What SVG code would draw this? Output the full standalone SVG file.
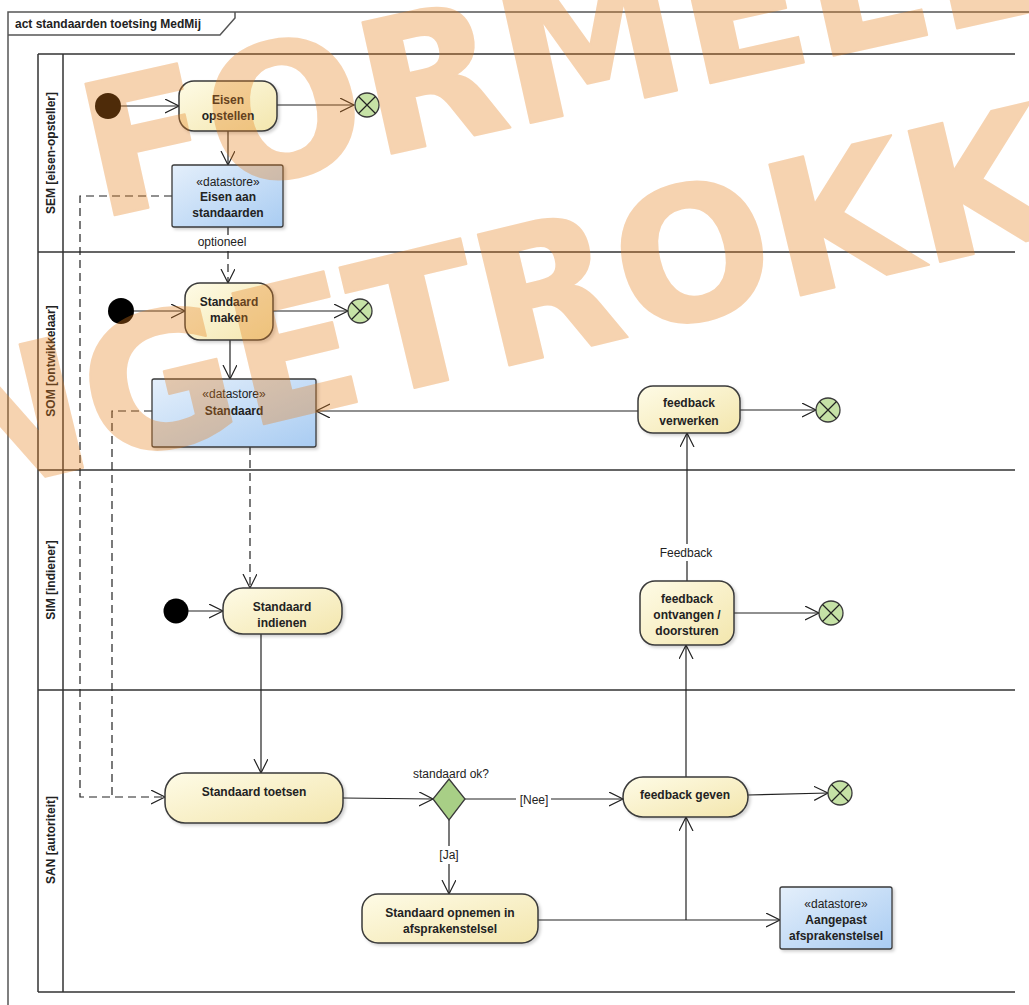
<svg xmlns="http://www.w3.org/2000/svg" width="1029" height="1005" viewBox="0 0 1029 1005">
<defs>
<style>
.frame{fill:none;stroke:#555;stroke-width:1.5}
.lane{fill:none;stroke:#333;stroke-width:1.5}
.act{fill:url(#gAct);stroke:#3a3a3a;stroke-width:1.5;filter:url(#sh)}
.ds{fill:url(#gDs);stroke:#3a3a3a;stroke-width:1.3;filter:url(#sh)}
.fin{fill:#c6e2a6;stroke:#3a3a3a;stroke-width:1.3}
.init{fill:#000}
.dec{fill:#a8cf86;stroke:#3a3a3a;stroke-width:1.3}
.cn{fill:none;stroke:#222;stroke-width:1.2}
.flow{fill:none;stroke:#222;stroke-width:1.2;marker-end:url(#arr)}
.dash{fill:none;stroke:#222;stroke-width:1.2;stroke-dasharray:8,5}
.t{font-family:"Liberation Sans",Arial,sans-serif;font-size:12px;font-weight:bold;fill:#222;text-anchor:middle}
.s{font-family:"Liberation Sans",Arial,sans-serif;font-size:12px;fill:#222;text-anchor:middle}
.ll{font-family:"Liberation Sans",Arial,sans-serif;font-size:12px;font-weight:bold;fill:#222;text-anchor:middle}
.wm{font-family:"DejaVu Sans",Verdana,sans-serif;font-size:185px;font-weight:bold;fill:#e57f1c;stroke:#e57f1c;stroke-width:2;stroke-linejoin:round}
</style>
<linearGradient id="gAct" x1="0" y1="0" x2="1" y2="1">
<stop offset="0" stop-color="#fefbe6"/><stop offset="1" stop-color="#f3e6ad"/>
</linearGradient>
<linearGradient id="gDs" x1="0" y1="0" x2="1" y2="1">
<stop offset="0" stop-color="#e4effb"/><stop offset="1" stop-color="#a9ccf2"/>
</linearGradient>
<filter id="sh" x="-10%" y="-10%" width="130%" height="140%">
<feDropShadow dx="2" dy="2" stdDeviation="1.5" flood-color="#000" flood-opacity="0.18"/>
</filter>
<marker id="arr" markerWidth="16" markerHeight="16" refX="14" refY="7" orient="auto" markerUnits="userSpaceOnUse">
<path d="M0,0 L14,7 L0,14" fill="none" stroke="#222" stroke-width="1.2"/>
</marker>
</defs>
<rect width="1029" height="1005" fill="#fff"/>

<g id="frame">
<path class="frame" d="M8,1005 L8,12 L1029,12"/>
<path class="frame" d="M8,35 L220,35 L235,18 L235,12"/>
<text x="15" y="28" font-family="Liberation Sans,Arial,sans-serif" font-size="12" font-weight="bold" fill="#222">act standaarden toetsing MedMij</text>
</g>

<g id="lanes">
<path class="lane" d="M38,54 L1015,54 M38,252 L1015,252 M38,470 L1015,470 M38,690 L1015,690 M38,992 L1015,992 M38,54 L38,992 M63,54 L63,992"/>
<text class="ll" transform="translate(55,153) rotate(-90)">SEM [eisen-opsteller]</text>
<text class="ll" transform="translate(55,361) rotate(-90)">SOM [ontwikkelaar]</text>
<text class="ll" transform="translate(55,580) rotate(-90)">SIM [indiener]</text>
<text class="ll" transform="translate(55,840) rotate(-90)">SAN [autoriteit]</text>
</g>

<g id="connectors">
<line class="flow" x1="121" y1="106" x2="179" y2="106"/>
<line class="flow" x1="277" y1="105" x2="354" y2="105"/>
<line class="flow" x1="228" y1="131" x2="228" y2="165"/>
<path class="dash" d="M228,227 L228,236 M228,251 L228,283" marker-end="url(#arr)"/>
<rect x="194" y="235" width="58" height="15" fill="#fff"/>
<text class="s" x="222" y="246">optioneel</text>
<path class="dash" d="M172,196 L80,196 L80,797 L165,797" marker-end="url(#arr)"/>
<path class="dash" d="M152,411 L112,411 L112,797"/>
<line class="flow" x1="134" y1="311" x2="185" y2="311"/>
<line class="flow" x1="273" y1="311" x2="348" y2="311"/>
<line class="flow" x1="230" y1="340" x2="230" y2="379"/>
<path class="dash" d="M250,447 L250,588" marker-end="url(#arr)"/>
<line class="flow" x1="638" y1="411" x2="316" y2="411"/>
<line class="flow" x1="740" y1="410" x2="816" y2="410"/>
<line class="flow" x1="188" y1="611" x2="223" y2="611"/>
<line class="flow" x1="261" y1="634" x2="261" y2="773"/>
<line class="flow" x1="343" y1="798" x2="433" y2="799"/>
<path class="cn" d="M465,799 L516,799 M551,799 L623,799" marker-end="url(#arr)"/>
<text class="s" x="534" y="804">[Nee]</text>
<line class="flow" x1="748" y1="795" x2="828" y2="793"/>
<path class="cn" d="M449,820 L449,846 M449,864 L449,894" marker-end="url(#arr)"/>
<text class="s" x="449" y="859">[Ja]</text>
<line class="flow" x1="538" y1="920" x2="780" y2="920"/>
<line class="flow" x1="686" y1="920" x2="686" y2="817"/>
<line class="flow" x1="686" y1="777" x2="686" y2="645"/>
<line class="flow" x1="734" y1="613" x2="819" y2="613"/>
<path class="cn" d="M687,581 L687,561 M687,544 L687,433" marker-end="url(#arr)"/>
<text class="s" x="686" y="557">Feedback</text>
</g>

<g id="n_init1"><circle class="init" cx="108" cy="106" r="13"/></g>
<g id="n_eisen_opstellen">
<rect class="act" x="179" y="81" width="98" height="50" rx="15"/>
<text class="t" x="228" y="104">Eisen</text><text class="t" x="228" y="120">opstellen</text>
</g>
<g id="n_final1"><circle class="fin" cx="367" cy="105" r="12"/><path class="cn" d="M358.5,96.5 L375.5,113.5 M375.5,96.5 L358.5,113.5"/></g>
<g id="n_ds_eisen">
<rect class="ds" x="172" y="165" width="111" height="62" rx="2"/>
<text class="s" x="228" y="186">«datastore»</text>
<text class="t" x="228" y="201">Eisen aan</text><text class="t" x="228" y="217">standaarden</text>
</g>

<g id="n_init2"><circle class="init" cx="121" cy="311" r="13"/></g>
<g id="n_standaard_maken">
<rect class="act" x="185" y="283" width="88" height="57" rx="15"/>
<text class="t" x="229" y="306">Standaard</text><text class="t" x="229" y="322">maken</text>
</g>
<g id="n_final2"><circle class="fin" cx="360" cy="311" r="12"/><path class="cn" d="M351.5,302.5 L368.5,319.5 M368.5,302.5 L351.5,319.5"/></g>
<g id="n_ds_standaard">
<rect class="ds" x="152" y="379" width="164" height="68" rx="2"/>
<text class="s" x="234" y="398">«datastore»</text>
<text class="t" x="234" y="415">Standaard</text>
</g>
<g id="n_feedback_verwerken">
<rect class="act" x="638" y="386" width="102" height="47" rx="15"/>
<text class="t" x="689" y="407">feedback</text><text class="t" x="689" y="425">verwerken</text>
</g>
<g id="n_final3"><circle class="fin" cx="828" cy="410" r="12"/><path class="cn" d="M819.5,401.5 L836.5,418.5 M836.5,401.5 L819.5,418.5"/></g>

<g id="n_init3"><circle class="init" cx="176" cy="611" r="12.5"/></g>
<g id="n_standaard_indienen">
<rect class="act" x="223" y="588" width="119" height="46" rx="20"/>
<text class="t" x="282" y="611">Standaard</text><text class="t" x="282" y="627">indienen</text>
</g>
<g id="n_feedback_ontvangen">
<rect class="act" x="640" y="581" width="94" height="64" rx="15"/>
<text class="t" x="687" y="603">feedback</text><text class="t" x="687" y="619">ontvangen /</text><text class="t" x="687" y="635">doorsturen</text>
</g>
<g id="n_final4"><circle class="fin" cx="831" cy="613" r="12"/><path class="cn" d="M822.5,604.5 L839.5,621.5 M839.5,604.5 L822.5,621.5"/></g>

<g id="n_standaard_toetsen">
<rect class="act" x="165" y="773" width="178" height="50" rx="20"/>
<text class="t" x="254" y="796">Standaard toetsen</text>
</g>
<g id="n_decision">
<path class="dec" d="M449,779 L465,799 L449,820 L433,799 Z"/>
<text class="s" x="451" y="778">standaard ok?</text>
</g>
<g id="n_feedback_geven">
<rect class="act" x="623" y="777" width="125" height="40" rx="20"/>
<text class="t" x="685" y="799">feedback geven</text>
</g>
<g id="n_final5"><circle class="fin" cx="840" cy="793" r="12"/><path class="cn" d="M831.5,784.5 L848.5,801.5 M848.5,784.5 L831.5,801.5"/></g>
<g id="n_standaard_opnemen">
<rect class="act" x="362" y="894" width="176" height="49" rx="16"/>
<text class="t" x="450" y="917">Standaard opnemen in</text><text class="t" x="450" y="933">afsprakenstelsel</text>
</g>
<g id="n_ds_aangepast">
<rect class="ds" x="780" y="887" width="112" height="62" rx="2"/>
<text class="s" x="836" y="908">«datastore»</text>
<text class="t" x="836" y="924">Aangepast</text><text class="t" x="836" y="940">afsprakenstelsel</text>
</g>

<g id="watermark" opacity="0.34">
<text class="wm" transform="translate(98,219) rotate(-12.5)">FORMEEL</text>
<text class="wm" transform="translate(-118,516) rotate(-13.5)">INGETROKKEN</text>
</g>
</svg>
